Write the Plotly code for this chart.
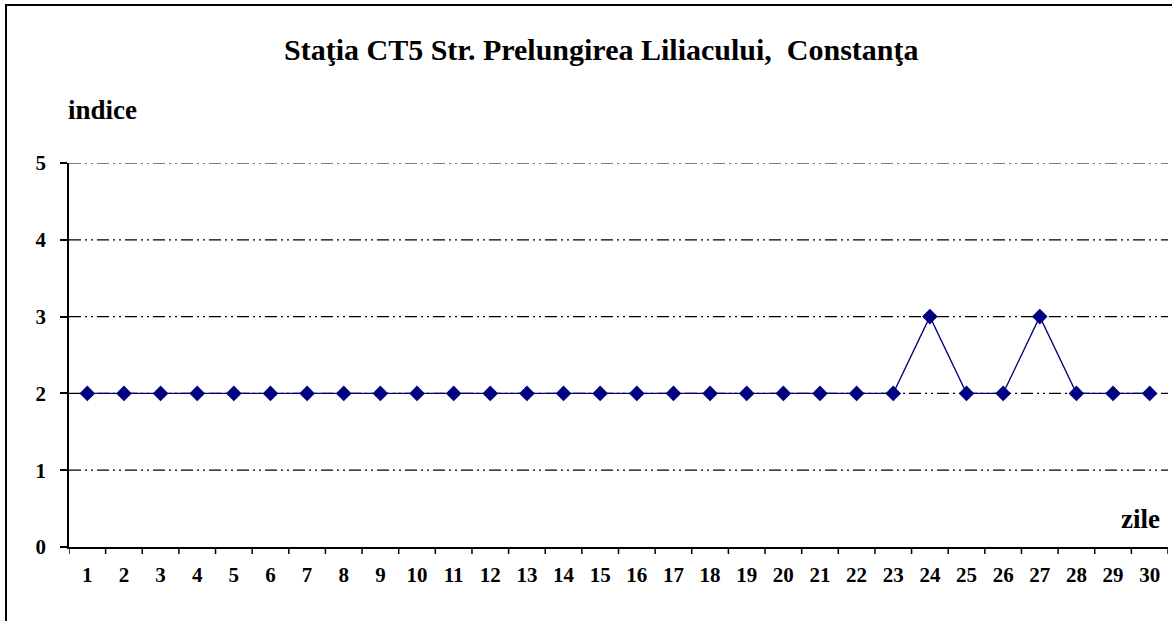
import plotly.graph_objects as go

days = list(range(1, 31))
indice = [2]*23 + [3, 2, 2, 3, 2, 2, 2]
y_ticks = [0, 1, 2, 3, 4, 5]

title_text = "Staţia CT5 Str. Prelungirea Liliacului,  Constanţa"

W, H = 1172, 621
L, R, T, B = 69, 4, 163, 74
pw, ph = W - L - R, H - T - B

def px(x):
    return (x - L) / pw

def py(y):
    return (H - B - y) / ph

fig = go.Figure()
fig.add_trace(go.Scatter(
    x=days, y=indice, mode="lines+markers",
    line=dict(color="#000080", width=1.3),
    marker=dict(symbol="diamond", size=12, color="#000080"),
    showlegend=False, cliponaxis=False, hoverinfo="skip",
))

fam = "Liberation Serif, Times New Roman, serif"

# gridlines (dash-dot-dot)
for v in y_ticks[1:]:
    fig.add_shape(type="line", xref="paper", yref="y", x0=0, x1=1, y0=v, y1=v,
                  line=dict(color="black", width=1.2, dash="12px,4px,2px,4px,2px,4px"), layer="below")

# frame border (top and left)
fig.add_shape(type="line", xref="paper", yref="paper", x0=px(5), x1=px(1180), y0=py(5), y1=py(5),
              line=dict(color="black", width=2))
fig.add_shape(type="line", xref="paper", yref="paper", x0=px(6), x1=px(6), y0=py(4), y1=py(630),
              line=dict(color="black", width=2))

fig.add_annotation(x=px(601), y=py(49), xref="paper", yref="paper", text=title_text,
                   showarrow=False, font=dict(size=30, family=fam, color="black", weight="bold"),
                   xanchor="center", yanchor="middle")
fig.add_annotation(x=px(66), y=py(110), xref="paper", yref="paper", text="indice",
                   showarrow=False, font=dict(size=27, family=fam, color="black", weight="bold"),
                   xanchor="left", yanchor="middle")
fig.add_annotation(x=px(1162), y=py(519), xref="paper", yref="paper", text="zile",
                   showarrow=False, font=dict(size=27, family=fam, color="black", weight="bold"),
                   xanchor="right", yanchor="middle")

fig.update_layout(
    width=W, height=H,
    margin=dict(l=L, r=R, t=T, b=B),
    paper_bgcolor="white", plot_bgcolor="white",
    xaxis=dict(range=[0.5, 30.5], tickvals=days, ticktext=[str(d) for d in days],
               showgrid=False, zeroline=False, showline=True, linecolor="black", linewidth=1.5,
               ticks="", tickfont=dict(size=21, family=fam, color="black", weight="bold"),
               ticklabelstandoff=8, fixedrange=True),
    yaxis=dict(range=[0, 5], tickvals=y_ticks, showgrid=False, zeroline=False,
               showline=True, linecolor="black", linewidth=1.5, ticks="outside", ticklen=7,
               tickwidth=1.5, tickcolor="black",
               tickfont=dict(size=21, family=fam, color="black", weight="bold"),
               ticklabelstandoff=10, fixedrange=True),
)

# x tick marks at category boundaries
for k in range(0, 31):
    fig.add_shape(type="line", xref="x", yref="paper", x0=k + 0.5, x1=k + 0.5, y0=0, y1=-7 / ph,
                  line=dict(color="black", width=1.5))

fig.write_html("out.html", config={"displayModeBar": False},
               post_script="document.body.style.margin='0';document.body.style.overflow='hidden';")
